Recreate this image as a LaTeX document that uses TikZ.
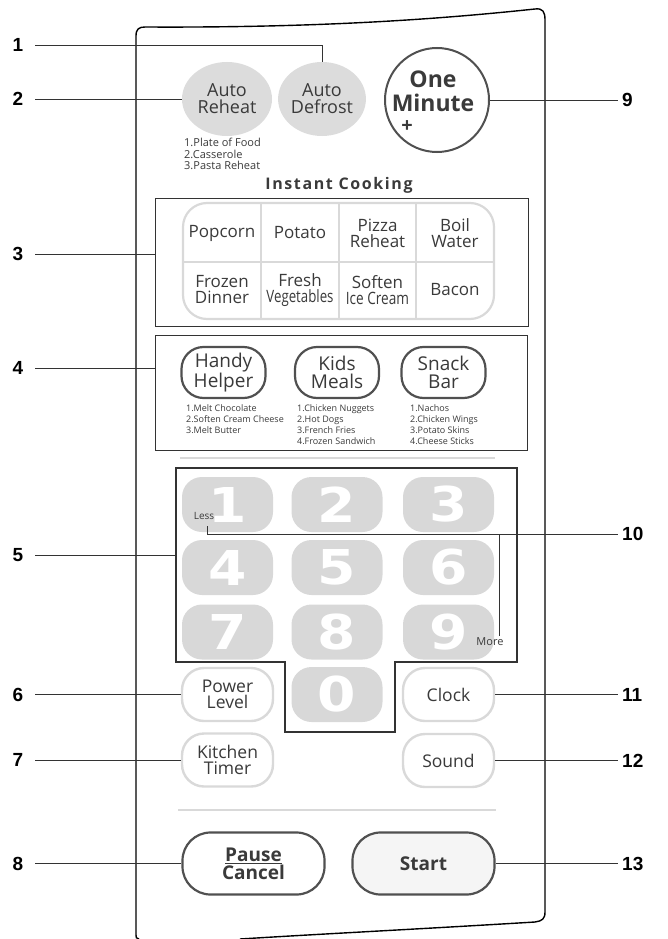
\documentclass[tikz,border=0pt]{standalone}
\usepackage{fontspec}
\setmainfont{Open Sans}
\newfontfamily\labfont{Liberation Sans}
\newfontfamily\digfont{DejaVu Sans}
\usetikzlibrary{shapes.geometric}
\definecolor{txt}{HTML}{3A3A3A}
\definecolor{lgray}{HTML}{D9D9D9}
\definecolor{dgray}{HTML}{505050}
\definecolor{keyg}{HTML}{D8D8D8}
\definecolor{lead}{HTML}{333333}
\begin{document}
\begin{tikzpicture}[x=1pt,y=-1pt,
 lab/.style={font=\labfont\bfseries\fontsize{19}{19}\selectfont, inner sep=0pt, text=black},
 leftlab/.style={lab, minimum width=20pt},
 leader/.style={draw=lead, line width=0.9pt},
 btn/.style={font=\fontsize{17}{16}\selectfont, text=txt, align=center, inner sep=0pt},
 darkbtn/.style={btn, draw=dgray, line width=2.2pt, fill=white, rounded corners=22pt, minimum width=84pt, minimum height=51pt, font=\fontsize{19}{18}\selectfont},
 lightbtn/.style={btn, draw=lgray, line width=2.4pt, fill=white, rounded corners=22pt, minimum width=91pt, minimum height=53pt, font=\fontsize{17.5}{16.5}\selectfont},
 bigbtn/.style={btn, draw=dgray, line width=2.2pt, rounded corners=28pt, minimum width=142pt, minimum height=62pt, font=\bfseries\fontsize{19}{18}\selectfont},
 key/.style={fill=keyg, rounded corners=20pt, minimum width=91pt, minimum height=55pt, inner sep=0pt, text=white, font=\digfont\bfseries\fontsize{48}{48}\selectfont},
 small/.style={font=\fontsize{9}{11}\selectfont, text=txt, align=left, inner sep=0pt, anchor=north west},
 cell/.style={btn, minimum width=76pt, minimum height=56pt},
 oval/.style={btn, shape=ellipse, fill=keyg!90, minimum height=74pt, font=\fontsize{18}{17}\selectfont},
]
\useasboundingbox (0,0) rectangle (667,939);
% panel outline
\draw[line width=1.4pt, black] (136,935) -- (136,36) .. controls (136,29) and (139,27) .. (145,27)
  .. controls (330,28) and (450,18) .. (535,9) .. controls (543,8) and (545,12) .. (545,20)
  -- (545,912) .. controls (545,919) and (542,921) .. (535,922)
  .. controls (420,929) and (320,934) .. (240,939);
\draw[line width=1.4pt, black] (136,935) .. controls (136,938) .. (139,939);

% top buttons
\node[oval, minimum width=86pt] (defrost) at (322,99) {Auto\\Defrost};
\node[oval, minimum width=90pt] (reheat) at (227,99) {Auto\\Reheat};
\node[small, font=\fontsize{11}{11.5}\selectfont] (reheatlist) at (184,138) {1.Plate of Food\\2.Casserole\\3.Pasta Reheat};
\node[circle, draw=dgray, line width=2pt, minimum size=104pt, inner sep=0pt, fill=white] (minute) at (437,100) {};
\node[font=\bfseries\fontsize{23}{24}\selectfont, text=txt, align=center, inner sep=0pt] (minutetxt) at (433,91) {One\\Minute};
\node[font=\bfseries\fontsize{20}{20}\selectfont, text=txt, inner sep=0pt] (plus) at (407,127) {+};

% instant cooking
\node[font=\bfseries\fontsize{16}{16}\selectfont\addfontfeature{LetterSpace=10}, text=txt, inner sep=0pt] (ictitle) at (339,185) {Instant Cooking};
\node[draw=lead, line width=1pt, minimum width=373pt, minimum height=128pt, inner sep=0pt] (icbox) at (341.5,262) {};
\draw[lgray, line width=2.2pt] (261,203) -- (261,319) (339,203) -- (339,319) (416,203) -- (416,319) (183,262) -- (494,262);
\draw[lgray, line width=2.2pt, rounded corners=24pt] (183,203) rectangle (494,319);
\node[cell] (popcorn) at (222,233) {Popcorn};
\node[cell] (potato) at (300,233) {Potato};
\node[cell] (pizza) at (377.5,233) {Pizza\\Reheat};
\node[cell] (boil) at (455,233) {Boil\\Water};
\node[cell] (frozen) at (222,290) {Frozen\\Dinner};
\node[cell] (fresh) at (300,290) {Fresh\\\scalebox{0.78}[1]{Vegetables}};
\node[cell] (soften) at (377.5,290) {Soften\\\scalebox{0.8}[1]{Ice Cream}};
\node[cell] (bacon) at (455,290) {Bacon};

% snack box
\node[draw=lead, line width=1pt, minimum width=372pt, minimum height=115pt, inner sep=0pt] (sbbox) at (341,392.5) {};
\node[darkbtn] (handy) at (223.5,372.5) {Handy\\Helper};
\node[darkbtn] (kids) at (337,372.5) {Kids\\Meals};
\node[darkbtn] (snack) at (443.5,372.5) {Snack\\Bar};
\node[small] (handylist) at (186,404) {1.Melt Chocolate\\2.Soften Cream Cheese\\3.Melt Butter};
\node[small] (kidslist) at (297,404) {1.Chicken Nuggets\\2.Hot Dogs\\3.French Fries\\4.Frozen Sandwich};
\node[small] (snacklist) at (410,404) {1.Nachos\\2.Chicken Wings\\3.Potato Skins\\4.Cheese Sticks};
\draw[lgray, line width=1.2pt] (180,458) -- (495,458);

% keypad
\draw[lead, line width=1.1pt] (176,468) -- (517,468) -- (517,662) -- (395,662) -- (395,732) -- (285,732) -- (285,662) -- (176,662) -- cycle;
\node[key] (k1) at (227.5,504.5) {\scalebox{1.15}[1]{1}};
\node[key] (k2) at (337,504.5) {\scalebox{1.15}[1]{2}};
\node[key] (k3) at (448.5,504.5) {\scalebox{1.15}[1]{3}};
\node[key] (k4) at (227.5,567.5) {\scalebox{1.15}[1]{4}};
\node[key] (k5) at (337,567.5) {\scalebox{1.15}[1]{5}};
\node[key] (k6) at (448.5,567.5) {\scalebox{1.15}[1]{6}};
\node[key] (k7) at (227.5,632) {\scalebox{1.15}[1]{7}};
\node[key] (k8) at (337,632) {\scalebox{1.15}[1]{8}};
\node[key] (k9) at (448.5,632) {\scalebox{1.15}[1]{9}};
\node[key] (k0) at (337,694.5) {\scalebox{1.15}[1]{0}};
\node[font=\fontsize{10}{10}\selectfont, text=txt, inner sep=0pt] (less) at (204,516) {Less};
\node[font=\fontsize{11}{10}\selectfont, text=txt, inner sep=0pt] (more) at (490,642) {More};

% side buttons
\node[lightbtn] (power) at (227.5,694.5) {Power\\Level};
\node[lightbtn] (kitchen) at (227.5,760) {Kitchen\\Timer};
\node[lightbtn] (clock) at (448.5,694.5) {Clock};
\node[lightbtn] (sound) at (448.5,760.5) {Sound};
\draw[lgray, line width=1.2pt] (178,810) -- (496,810);

% pause / start
\node[bigbtn, fill=white] (pause) at (253.5,863.5) {\underline{Pause}\\Cancel};
\node[bigbtn, fill=black!4] (start) at (423.5,863.5) {Start};

% labels
\node[leftlab] (l1) at (18,45) {1};
\node[leftlab] (l2) at (18,99) {2};
\node[leftlab] (l3) at (18,254) {3};
\node[leftlab] (l4) at (18,368) {4};
\node[leftlab] (l5) at (18,555) {5};
\node[leftlab] (l6) at (18,694.5) {6};
\node[leftlab] (l7) at (18,760) {7};
\node[leftlab] (l8) at (18,863.5) {8};
\node[lab, anchor=west] (l9) at (622,100) {9};
\node[lab, anchor=west] (l10) at (622,534) {10};
\node[lab, anchor=west] (l11) at (622,694.5) {11};
\node[lab, anchor=west] (l12) at (622,760.5) {12};
\node[lab, anchor=west] (l13) at (622,863.5) {13};

\coordinate (kpwest) at (176,555);
\coordinate (lesstip) at (207,526);
\coordinate (moretip) at (499,636);

\draw[leader] ([xshift=7pt]l1.east) -| (defrost.north);
\draw[leader] ([xshift=7pt]l2.east) -- (reheat.west);
\draw[leader] ([xshift=7pt]l3.east) -- (l3 -| icbox.west);
\draw[leader] ([xshift=7pt]l4.east) -- (l4 -| sbbox.west);
\draw[leader] ([xshift=7pt]l5.east) -- (kpwest);
\draw[leader] ([xshift=7pt]l6.east) -- (power.west);
\draw[leader] ([xshift=7pt]l7.east) -- (kitchen.west);
\draw[leader] ([xshift=7pt]l8.east) -- (pause.west);
\draw[leader] (minute.east) -- ([xshift=-4pt]l9.west);
\draw[leader] (lesstip) |- ([xshift=-4pt]l10.west);
\draw[leader] (moretip) -- (moretip |- l10.west);
\draw[leader] (clock.east) -- ([xshift=-4pt]l11.west);
\draw[leader] (sound.east) -- ([xshift=-4pt]l12.west);
\draw[leader] (start.east) -- ([xshift=-4pt]l13.west);
\end{tikzpicture}
\end{document}
